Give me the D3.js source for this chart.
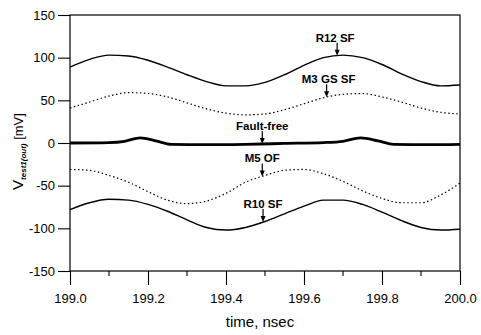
<!DOCTYPE html>
<html>
<head>
<meta charset="utf-8">
<script src="https://cdn.jsdelivr.net/npm/d3@7"></script>
<style>
  body { margin: 0; background: #fff; }
  text { font-family: "Liberation Sans", Arial, sans-serif; fill: #000; }
</style>
</head>
<body>
<div id="chart"></div>
<script>
// sample times, nsec
var time = [199.00, 199.05, 199.10, 199.15, 199.20, 199.25, 199.30, 199.35, 199.40, 199.45,
  199.50, 199.55, 199.60, 199.65, 199.70, 199.75, 199.80, 199.85, 199.90, 199.95, 200.00];

var r12SF  = [89, 98, 103, 102, 97, 89, 80, 72, 67, 67, 71, 80, 91, 100, 103, 100, 92, 81, 72, 67, 68];
var m3GSSF = [41, 48, 55, 59, 58, 54, 47, 40, 35, 33, 34, 39, 46, 53, 57, 58, 54, 48, 41, 36, 34];
var m5OF   = [-31, -32, -38, -46, -57, -67, -71, -68, -59, -46, -38, -32, -31, -36, -45, -56, -65, -70, -70, -61, -47];
var r10SF  = [-78, -70, -66, -67, -72, -80, -90, -99, -102, -99, -92, -83, -74, -67, -67, -72, -81, -91, -99, -102, -101];

// fault-free trace sampled more finely around the bumps
var ffTime   = [199.00, 199.10, 199.14, 199.18, 199.22, 199.26, 199.35, 199.45, 199.55, 199.65, 199.70, 199.745, 199.79, 199.83, 199.92, 200.00];
var faultFree = [0, 0.5, 2, 6, 2.5, -1.5, -2, -1.5, -0.5, 0.5, 2, 6, 2.5, -1.5, -2, -1.5];

var xTicks = [199.0, 199.2, 199.4, 199.6, 199.8, 200.0];
var xMinor = [199.1, 199.3, 199.5, 199.7, 199.9];
var yTicks = [150, 100, 50, 0, -50, -100, -150];

// annotations: label, arrow x (nsec), which series
var notes = [
  {label: "R12 SF",     t: 199.685, s: r12SF,  dx: -2},
  {label: "M3 GS SF",   t: 199.658, s: m3GSSF, dx: 2},
  {label: "Fault-free", t: 199.493, s: null,   dx: 0},
  {label: "M5 OF",      t: 199.493, s: m5OF,   dx: 0},
  {label: "R10 SF",     t: 199.495, s: r10SF,  dx: 0}
];

var margin = {top: 15, right: 21, bottom: 64, left: 70},
  width = 481 - margin.left - margin.right,
  height = 335 - margin.top - margin.bottom;

var x = d3.scaleLinear().domain([199, 200]).range([0, width]);
var y = d3.scaleLinear().domain([-150, 150]).range([height, 0]);

var svg = d3.select("#chart").append("svg")
  .attr("width", 481)
  .attr("height", 335)
  .append("g")
  .attr("transform", "translate(" + margin.left + "," + margin.top + ")");

// frame
svg.append("rect")
  .attr("width", width).attr("height", height)
  .attr("fill", "none").attr("stroke", "#000").attr("stroke-width", 1.2);

// x axis
var xAxis = svg.append("g")
  .attr("transform", "translate(0," + height + ")")
  .call(d3.axisBottom(x).tickValues(xTicks).tickFormat(d3.format(".1f")).tickSize(14).tickPadding(9));
xAxis.selectAll("text").style("font-size", "13px");
xAxis.select(".domain").remove();
// minor ticks
svg.append("g").selectAll("line")
  .data(xMinor)
  .join("line")
  .attr("x1", function(d) { return x(d); }).attr("x2", function(d) { return x(d); })
  .attr("y1", height).attr("y2", height + 5)
  .attr("stroke", "#000").attr("stroke-width", 1.1);

// y axis
var yAxis = svg.append("g")
  .call(d3.axisLeft(y).tickValues(yTicks).tickFormat(function(d) { return String(d); }).tickSize(12).tickPadding(3));
yAxis.selectAll("text").style("font-size", "13px");
yAxis.select(".domain").remove();
svg.selectAll(".tick line").attr("stroke-width", 1.1);

// lines
var line = d3.line()
  .x(function(d) { return x(d[0]); })
  .y(function(d) { return y(d[1]); })
  .curve(d3.curveMonotoneX);

function pairs(ts, vs) { return ts.map(function(t, i) { return [t, vs[i]]; }); }

var series = [
  {v: r12SF,  dash: null,  w: 1.4},
  {v: m3GSSF, dash: "1.5,2.5", w: 1.2},
  {v: m5OF,   dash: "1.5,2.5", w: 1.2},
  {v: r10SF,  dash: null,  w: 1.4}
];
series.forEach(function(s) {
  svg.append("path")
    .attr("d", line(pairs(time, s.v)))
    .attr("fill", "none").attr("stroke", "#000")
    .attr("stroke-width", s.w)
    .attr("stroke-dasharray", s.dash);
});
svg.append("path")
  .attr("d", line(pairs(ffTime, faultFree)))
  .attr("fill", "none").attr("stroke", "#000").attr("stroke-width", 2.8);

// annotations with arrows
function valueAt(s, t) {
  if (!s) return d3.scaleLinear().domain(ffTime).range(faultFree)(t);
  return d3.scaleLinear().domain(time).range(s)(t);
}
notes.forEach(function(n) {
  var ax = x(n.t), ay = y(valueAt(n.s, n.t));
  var top = ay - 13;
  svg.append("line")
    .attr("x1", ax).attr("x2", ax).attr("y1", top).attr("y2", ay - 2)
    .attr("stroke", "#000").attr("stroke-width", 1.2);
  svg.append("path")
    .attr("d", "M" + (ax - 2.5) + "," + (ay - 6) + "L" + (ax + 2.5) + "," + (ay - 6) + "L" + ax + "," + ay + "Z")
    .attr("fill", "#000");
  svg.append("text")
    .attr("x", ax + n.dx).attr("y", top - 1)
    .attr("text-anchor", "middle")
    .style("font-size", "11.5px").style("font-weight", "bold")
    .text(n.label);
});

// axis titles
svg.append("text")
  .attr("x", width / 2 - 5).attr("y", height + 56)
  .attr("text-anchor", "middle")
  .style("font-size", "15px")
  .text("time, nsec");

var yt = svg.append("text")
  .attr("transform", "translate(" + (-47) + "," + (y(-10)) + ") rotate(-90)")
  .attr("text-anchor", "middle");
yt.append("tspan").style("font-size", "15px").text("V");
yt.append("tspan").style("font-size", "8px").style("font-style", "italic").style("font-weight", "bold").attr("dy", 3).text("test1(out)");
yt.append("tspan").style("font-size", "13px").attr("dy", -3).text(" [mV]");
</script>
</body>
</html>
